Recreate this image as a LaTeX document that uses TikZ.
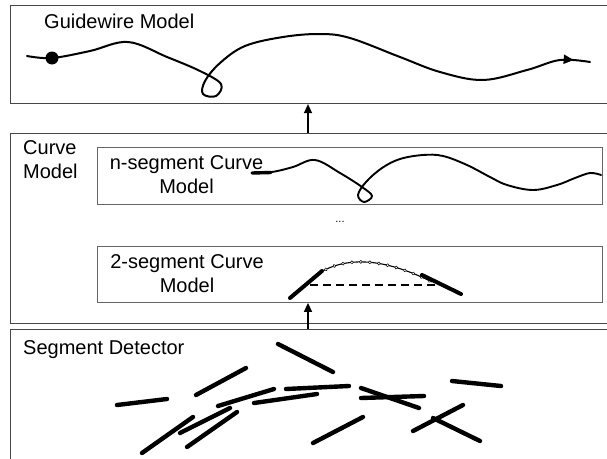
\documentclass[tikz,border=0pt]{standalone}
\usepackage{fontspec}
\setmainfont{Liberation Sans}
\usetikzlibrary{arrows.meta,decorations.markings}

\begin{document}
\begin{tikzpicture}[x=1pt,y=-1pt,
  panel/.style={draw=black!72, line width=1.1pt, inner sep=0pt, anchor=north west},
  subpanel/.style={draw=black!60, line width=0.9pt, inner sep=0pt, anchor=north west},
  lbl/.style={font=\fontsize{20}{24.5}\selectfont, inner sep=0pt},
  wire/.style={line width=2pt, line cap=round, line join=round},
  seg/.style={line width=4.4pt, line cap=round},
  flow/.style={line width=1.4pt, -{Triangle[length=9pt,width=8pt]}},
]
\clip (0,0) rectangle (607,458);
\fill[white] (0,0) rectangle (607,458);

% stages
\node[panel, minimum width=640pt, minimum height=98pt] (gw) at (10,5) {};
\node[panel, minimum width=640pt, minimum height=190pt] (cm) at (10,133) {};
\node[subpanel, minimum width=505pt, minimum height=57pt] (nseg) at (97,147) {};
\node[subpanel, minimum width=505pt, minimum height=56pt] (twoseg) at (97,246) {};
\node[panel, minimum width=640pt, minimum height=160pt] (sd) at (10,329) {};

% titles
\node[lbl, anchor=base west] (gwt) at (44,28) {Guidewire Model};
\node[lbl, anchor=north west, align=left] (cmt) at (23,140) {Curve\\Model};
\node[lbl, anchor=north, align=center] (nt) at (186.5,155) {n-segment Curve\\Model};
\node[lbl, anchor=north, align=center] (tt) at (187,254) {2-segment Curve\\Model};
\node[lbl, anchor=base west] (sdt) at (23,354) {Segment Detector};
\node[font=\fontsize{11}{11}\selectfont, inner sep=0pt] (dots) at (340,222) {...};

% data flow
\coordinate (ax) at (308,0);
\draw[flow] (cm.north -| ax) -- (gw.south -| ax);
\draw[flow] (sd.north -| ax) -- (twoseg.south -| ax);

% guidewire
\draw[wire, postaction={decorate}, decoration={markings,
    mark=at position 0.975 with {\arrow{Triangle[length=10pt,width=9pt]}}}]
  plot[smooth, tension=0.6] coordinates {(27,56) (52,58) (90,51) (128,42) (167,57)
    (200,71) (221,84) (216,96) (203,94) (205,81) (220,63) (245,46) (283,37) (320,34)
    (350,38) (400,57) (440,72) (483,80) (527,70) (560,60) (590,62)};
\node[circle, fill, minimum size=13pt, inner sep=0pt] (tipdot) at (52,58) {};

% n-segment curve
\draw[line width=1.9pt, line cap=round, line join=round]
  plot[smooth, tension=0.6] coordinates {(252,173) (272,172) (293,167) (315,160)
    (340,173) (362,187) (372,196) (364,202) (358,195) (366,182) (382,168) (400,159)
    (423,155) (443,156) (467,165) (490,177) (507,185) (533,190) (557,185) (575,178)
    (590,173) (601,175)};
\draw[line width=3.4pt, line cap=round] (252,173) -- (271,172.5);

% 2-segment curve
\draw[line width=1.1pt, postaction={decorate}, decoration={markings,
    mark=between positions 0.12 and 0.98 step 9pt with
    {\draw[line width=0.5pt, fill=white] (0,0) circle[radius=1.5pt];}}]
  (313,277) .. controls (342.7,255.3) and (382.3,257) .. (432,282);
\draw[line width=4pt, line cap=round] (290,298) -- (322,271);
\draw[line width=4pt, line cap=round] (422,275) -- (461,294);
\draw[line width=1.6pt, dash pattern=on 8pt off 5pt] (310,285) -- (437,285);

% detected segments
\foreach \xa/\ya/\xb/\yb in {
  117/405/167/399, 196/395/246/368, 218/406/274/389, 180/433/230/408,
  142/453/193/417, 187/447/237/412, 254/403/317/394, 278/344/333/372,
  286/389/349/386, 361/388/419/408, 361/398/424/396, 452/381/501/386,
  313/443/363/417, 413/431/463/405, 433/418/480/441}
  \draw[seg] (\xa,\ya) -- (\xb,\yb);
\end{tikzpicture}
\end{document}
